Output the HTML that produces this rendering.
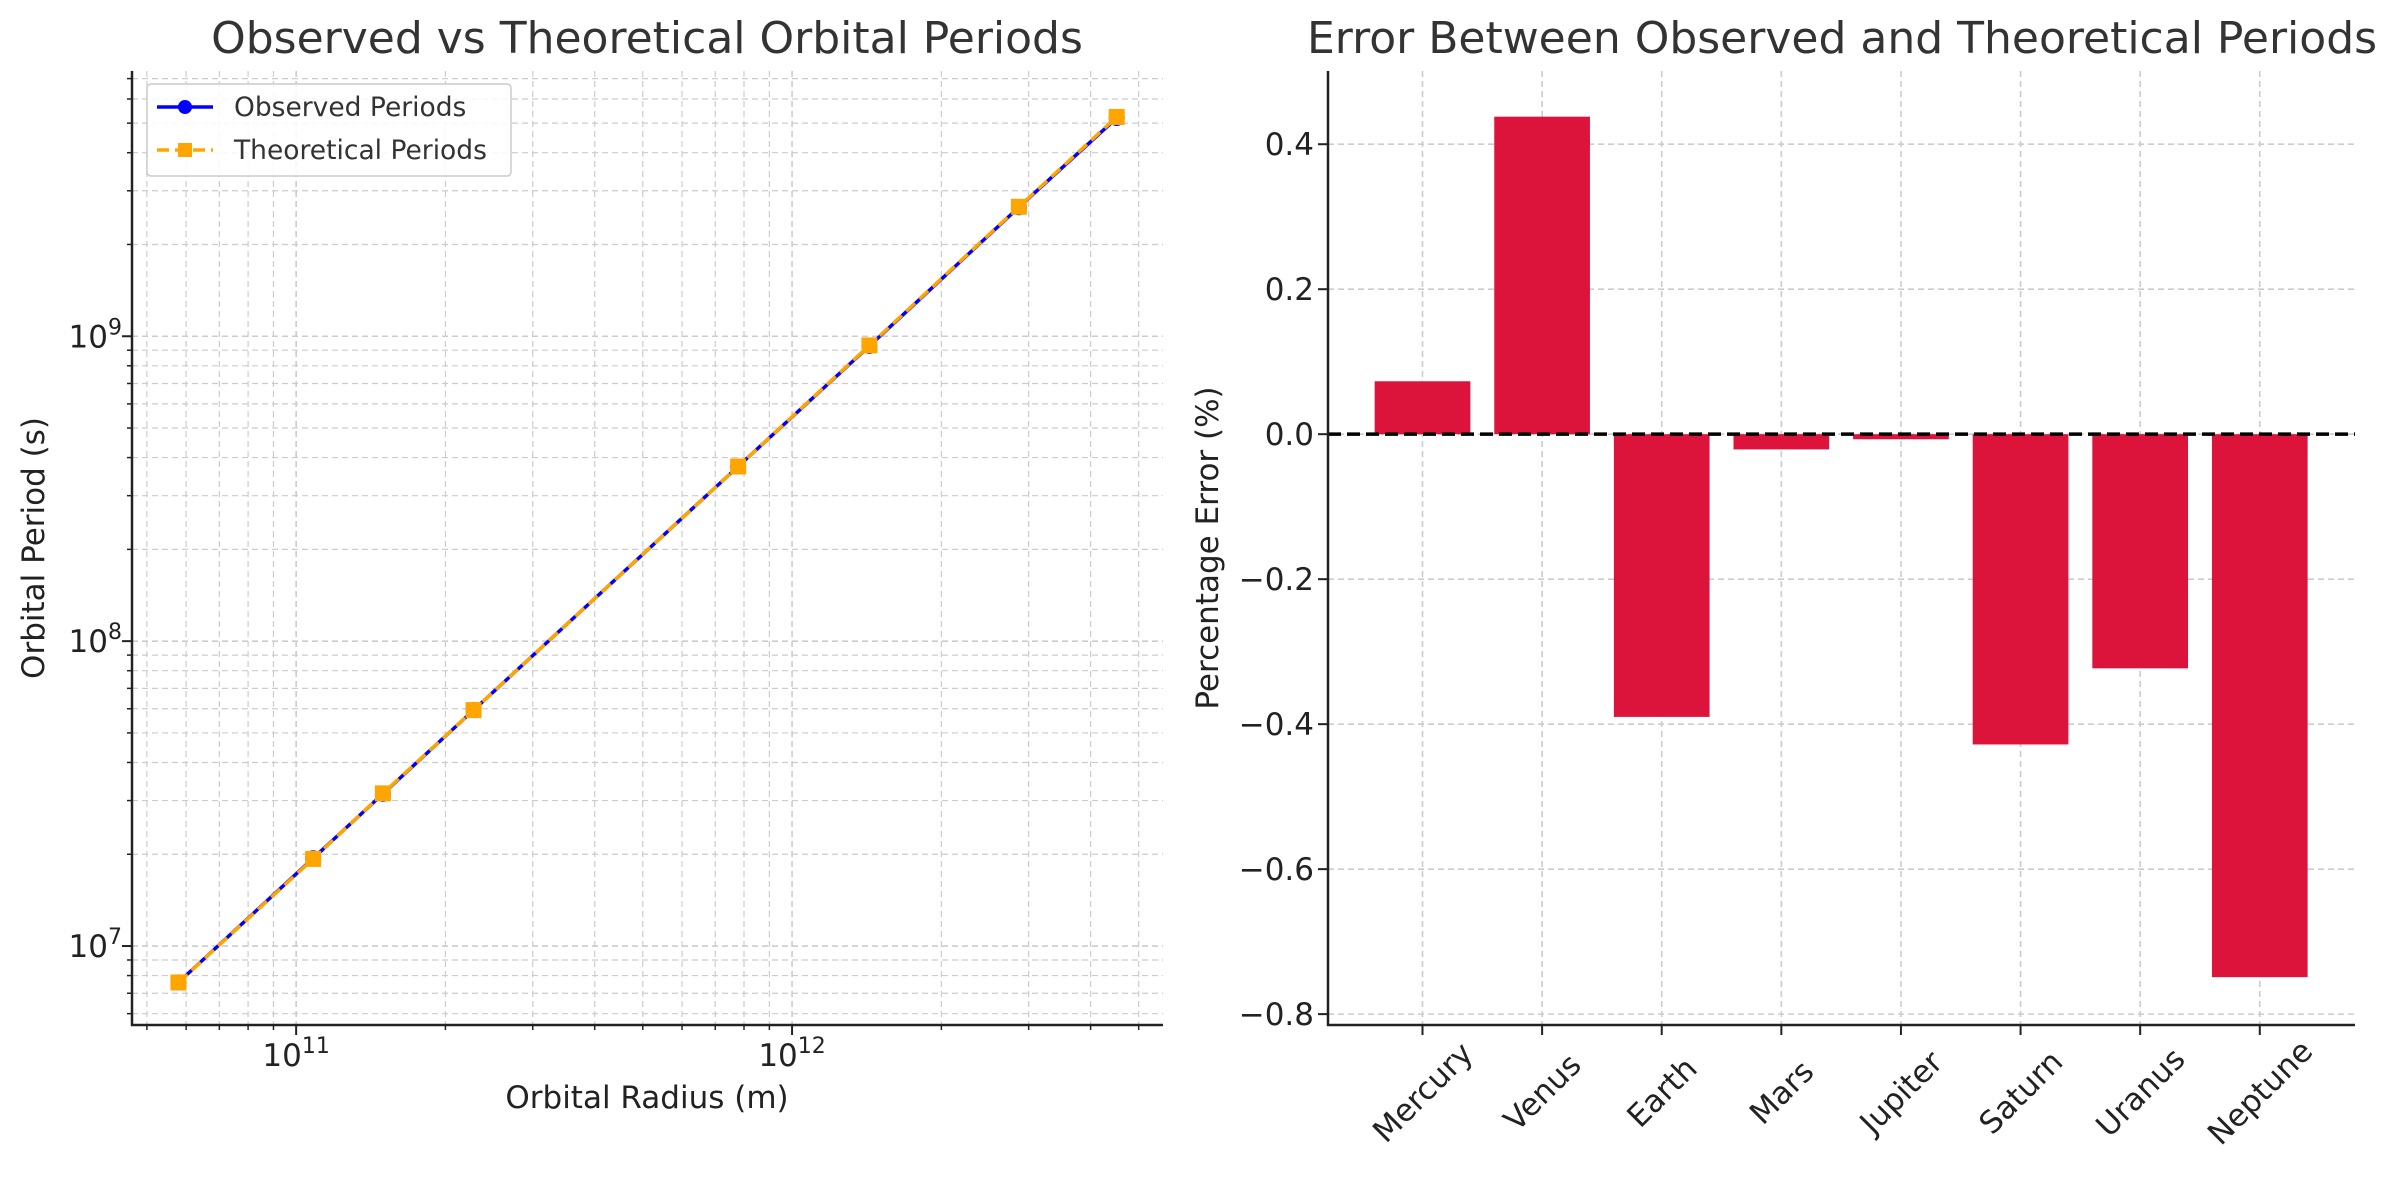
<!DOCTYPE html>
<html><head><meta charset="utf-8"><style>
html,body{margin:0;padding:0;background:#fff}
svg{display:block;font-family:"DejaVu Sans","Liberation Sans",sans-serif}
</style></head><body>
<svg id="c" width="2405" height="1180" viewBox="0 0 2405 1180" xmlns="http://www.w3.org/2000/svg"></svg>
<script>
const planets = ["Mercury","Venus","Earth","Mars","Jupiter","Saturn","Uranus","Neptune"];
const radii = [5.79e10,1.082e11,1.496e11,2.279e11,7.785e11,1.432e12,2.867e12,4.515e12];
const observedPeriods = [7.60e6,1.94e7,3.156e7,5.94e7,3.74e8,9.29e8,2.65e9,5.20e9];
const theoreticalPeriods = [7.594e6,1.931e7,3.168e7,5.941e7,3.74e8,9.33e8,2.659e9,5.24e9];
const errors = [0.073,0.438,-0.39,-0.021,-0.007,-0.428,-0.323,-0.749];
const errTicks = [0.4,0.2,0.0,-0.2,-0.4,-0.6,-0.8];
const errTickLabels = ["0.4","0.2","0.0","\u22120.2","\u22120.4","\u22120.6","\u22120.8"];

const NS="http://www.w3.org/2000/svg";
const svg=document.getElementById('c');
function el(tag,attrs,parent){const e=document.createElementNS(NS,tag);for(const k in attrs)e.setAttribute(k,attrs[k]);(parent||svg).appendChild(e);return e;}

// ---------- Left chart ----------
const L={x0:132,x1:1163,y0:71,y1:1025};
const lxMin=10.669,lxMax=12.748,lyMin=6.741,lyMax=9.870;
const lx=v=>L.x0+(Math.log10(v)-lxMin)/(lxMax-lxMin)*(L.x1-L.x0);
const ly=v=>L.y1-(Math.log10(v)-lyMin)/(lyMax-lyMin)*(L.y1-L.y0);
const gL=el('g',{});

for(let e=10;e<=12;e++)for(let m=1;m<10;m++){const v=m*Math.pow(10,e);const lv=Math.log10(v);if(lv<lxMin||lv>lxMax)continue;
 const l=el('line',{x1:lx(v),x2:lx(v),y1:L.y0,y2:L.y1,stroke:'#cccccc','stroke-width':m==1?1.6:1.2,'stroke-dasharray':'6,4'},gL);
 }
for(let e=6;e<=9;e++)for(let m=1;m<10;m++){const v=m*Math.pow(10,e);const lv=Math.log10(v);if(lv<lyMin||lv>lyMax)continue;
 const l=el('line',{x1:L.x0,x2:L.x1,y1:ly(v),y2:ly(v),stroke:'#cccccc','stroke-width':m==1?1.6:1.2,'stroke-dasharray':'6,4'},gL);
 }
let p1=radii.map((r,i)=>lx(r)+','+ly(observedPeriods[i])).join(' ');
const obsLine=el('polyline',{points:p1,fill:'none',stroke:'#0000ff','stroke-width':3.5},gL);

radii.forEach((r,i)=>{const c=el('circle',{cx:lx(r),cy:ly(observedPeriods[i]),r:8,fill:'#0000ff'},gL);
 });
let p2=radii.map((r,i)=>lx(r)+','+ly(theoreticalPeriods[i])).join(' ');
const thLine=el('polyline',{points:p2,fill:'none',stroke:'#ffa500','stroke-width':3.5,'stroke-dasharray':'12,6'},gL);

radii.forEach((r,i)=>{const s=el('rect',{x:lx(r)-8,y:ly(theoreticalPeriods[i])-8,width:16,height:16,fill:'#ffa500'},gL);
 });
el('line',{x1:L.x0,x2:L.x0,y1:L.y0,y2:L.y1+1,stroke:'#222','stroke-width':2.5},gL);
el('line',{x1:L.x0-1,x2:L.x1,y1:L.y1,y2:L.y1,stroke:'#222','stroke-width':2.5},gL);
for(let e=10;e<=12;e++)for(let m=1;m<10;m++){const v=m*Math.pow(10,e);const lv=Math.log10(v);if(lv<lxMin||lv>lxMax)continue;
 el('line',{x1:lx(v),x2:lx(v),y1:L.y1,y2:L.y1+(m==1?10:5),stroke:'#222','stroke-width':m==1?2:1.5},gL);}
for(let e=6;e<=9;e++)for(let m=1;m<10;m++){const v=m*Math.pow(10,e);const lv=Math.log10(v);if(lv<lyMin||lv>lyMax)continue;
 el('line',{x1:L.x0,x2:L.x0-(m==1?10:5),y1:ly(v),y2:ly(v),stroke:'#222','stroke-width':m==1?2:1.5},gL);}
[11,12].forEach(e=>{const t=el('text',{x:lx(Math.pow(10,e)),y:1066,'font-size':31,fill:'#222','text-anchor':'middle'},gL);
 t.innerHTML='10<tspan dy="-13" font-size="22">'+e+'</tspan>';});
[7,8,9].forEach(e=>{const t=el('text',{x:122,y:ly(Math.pow(10,e))+11,'font-size':31,fill:'#222','text-anchor':'end'},gL);
 t.innerHTML='10<tspan dy="-13" font-size="22">'+e+'</tspan>';});
let t;
t=el('text',{x:647,y:1108,'font-size':31,fill:'#222','text-anchor':'middle'},gL);t.textContent='Orbital Radius (m)';

t=el('text',{x:0,y:0,'font-size':31,fill:'#222','text-anchor':'middle',transform:'translate(44,548) rotate(-90)'},gL);t.textContent='Orbital Period (s)';

t=el('text',{x:647,y:53,'font-size':44,fill:'#333','text-anchor':'middle'},gL);t.textContent='Observed vs Theoretical Orbital Periods';

const lg=el('g',{},gL);
el('rect',{x:147,y:84,width:364,height:92,rx:4,fill:'#fff','fill-opacity':0.85,stroke:'#ccc','stroke-width':1.5},lg);
el('line',{x1:157,x2:213,y1:107,y2:107,stroke:'#0000ff','stroke-width':3.5},lg);
el('circle',{cx:185,cy:107,r:7,fill:'#0000ff'},lg);
t=el('text',{x:234,y:116,'font-size':26.5,fill:'#333'},lg);t.textContent='Observed Periods';
el('line',{x1:157,x2:213,y1:150,y2:150,stroke:'#ffa500','stroke-width':3.5,'stroke-dasharray':'12,6'},lg);
el('rect',{x:178,y:143,width:14,height:14,fill:'#ffa500'},lg);
t=el('text',{x:234,y:159,'font-size':26.5,fill:'#333'},lg);t.textContent='Theoretical Periods';

// ---------- Right chart ----------
const R={x0:1328,x1:2355,y0:71,y1:1025};
const rxMin=-0.79,rxMax=7.796,ryMin=-0.815,ryMax=0.501;
const rx=v=>R.x0+(v-rxMin)/(rxMax-rxMin)*(R.x1-R.x0);
const ry=v=>R.y1-(v-ryMin)/(ryMax-ryMin)*(R.y1-R.y0);
const gR=el('g',{});
planets.forEach((p,i)=>{const l=el('line',{x1:rx(i),x2:rx(i),y1:R.y0,y2:R.y1,stroke:'#cccccc','stroke-width':1.6,'stroke-dasharray':'6,4'},gR);
 });
errTicks.forEach(v=>{const l=el('line',{x1:R.x0,x2:R.x1,y1:ry(v),y2:ry(v),stroke:'#cccccc','stroke-width':1.6,'stroke-dasharray':'6,4'},gR);
 });
errors.forEach((v,i)=>{const y0=ry(Math.max(v,0)),y1=ry(Math.min(v,0));
 const b=el('rect',{x:rx(i-0.4),y:y0,width:rx(0.4)-rx(-0.4),height:y1-y0,fill:'#dc143c'},gR);
 });
const zl=el('line',{x1:R.x0,x2:R.x1,y1:ry(0),y2:ry(0),stroke:'#000','stroke-width':3.5,'stroke-dasharray':'13,6'},gR);

el('line',{x1:R.x0,x2:R.x0,y1:R.y0,y2:R.y1+1,stroke:'#222','stroke-width':2.5},gR);
el('line',{x1:R.x0-1,x2:R.x1,y1:R.y1,y2:R.y1,stroke:'#222','stroke-width':2.5},gR);
errTicks.forEach((v,i)=>{el('line',{x1:R.x0,x2:R.x0-10,y1:ry(v),y2:ry(v),stroke:'#222','stroke-width':2},gR);
 const tt=el('text',{x:1314,y:ry(v)+11,'font-size':31,fill:'#222','text-anchor':'end'},gR);tt.textContent=errTickLabels[i];
 });
planets.forEach((p,i)=>{el('line',{x1:rx(i),x2:rx(i),y1:R.y1,y2:R.y1+10,stroke:'#222','stroke-width':2},gR);
 const cx=rx(i),cy=1092;
 const tt=el('text',{x:cx,y:cy+11,'font-size':31,fill:'#222','text-anchor':'middle',transform:'rotate(-45 '+cx+' '+cy+')'},gR);tt.textContent=p;
 });
t=el('text',{x:0,y:0,'font-size':31,fill:'#222','text-anchor':'middle',transform:'translate(1218,548) rotate(-90)'},gR);t.textContent='Percentage Error (%)';

t=el('text',{x:1842,y:53,'font-size':44,fill:'#333','text-anchor':'middle'},gR);t.textContent='Error Between Observed and Theoretical Periods';

</script>
</body></html>
